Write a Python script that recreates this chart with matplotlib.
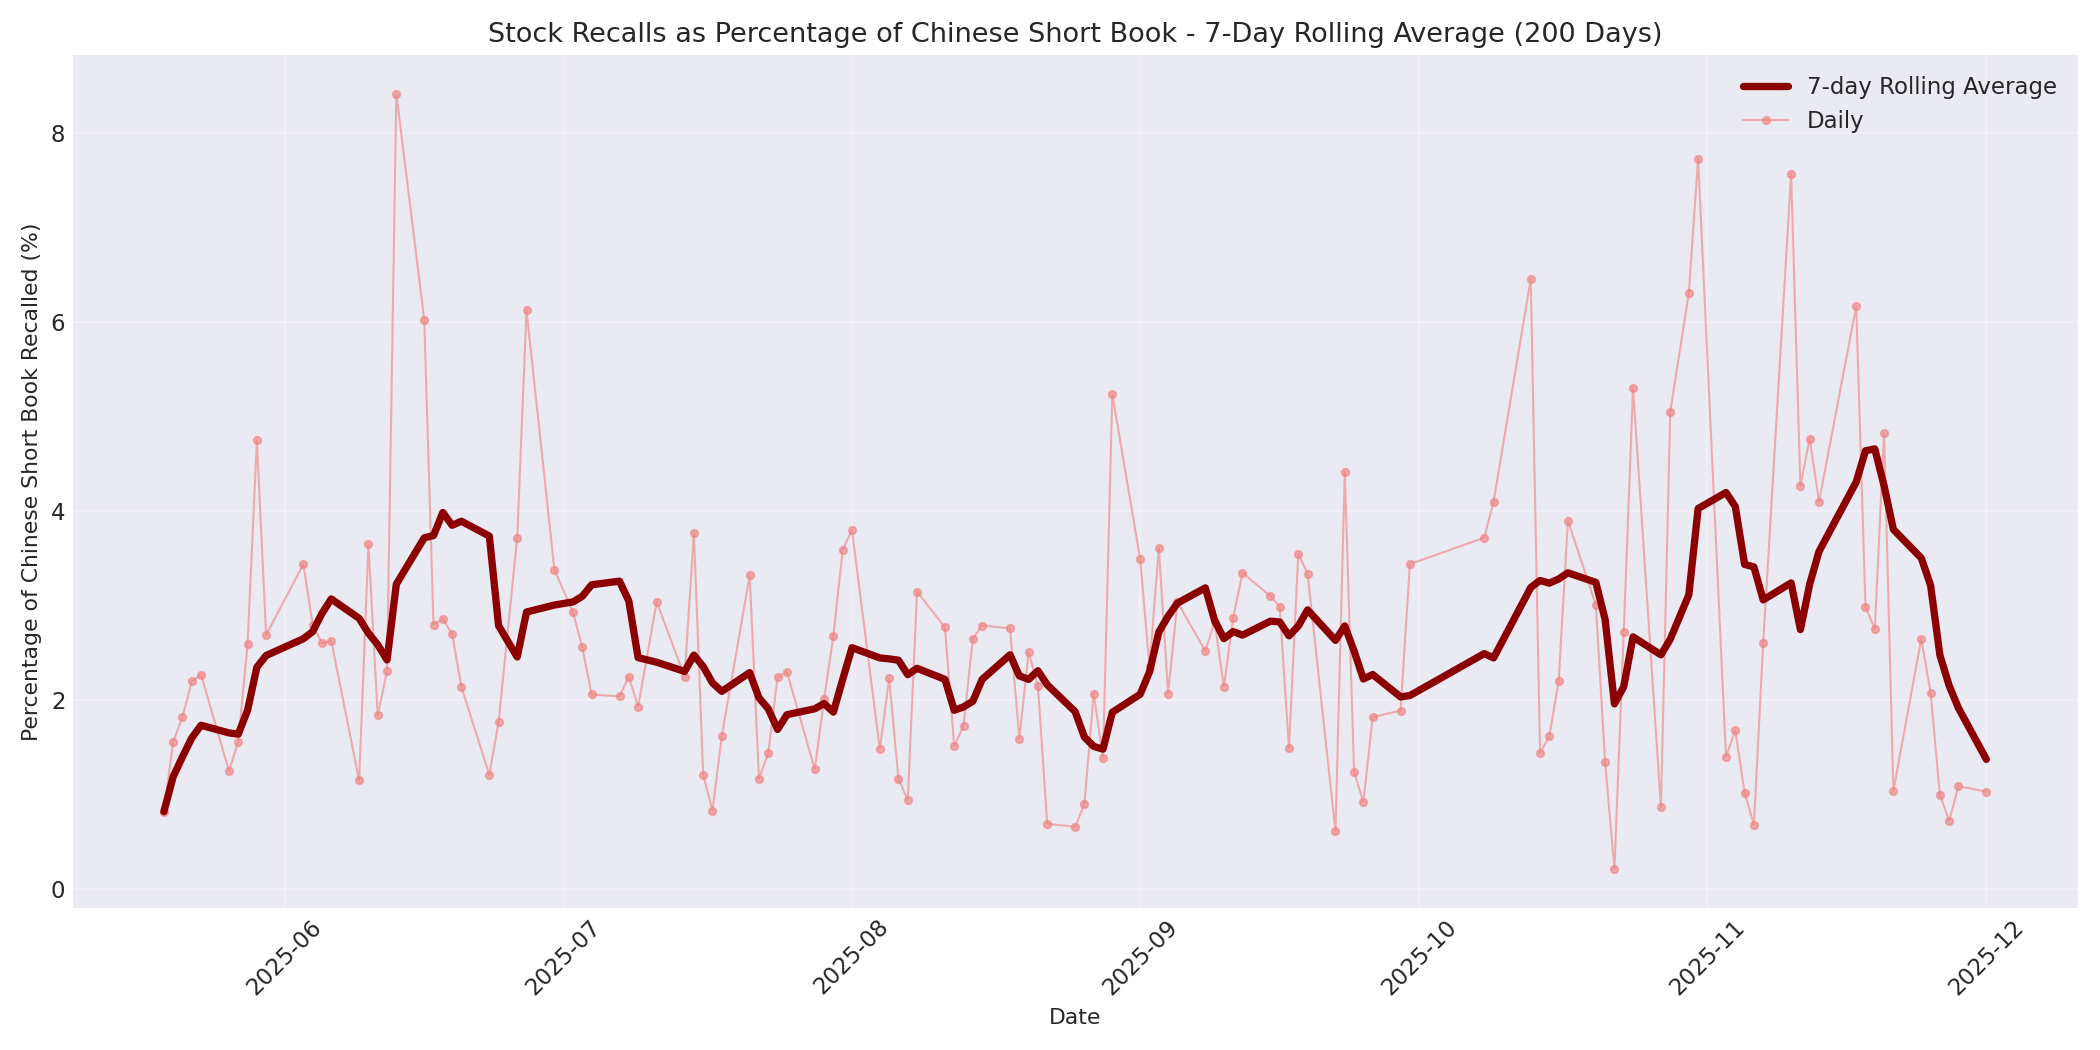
import numpy as np
import pandas as pd
import matplotlib
matplotlib.use("Agg")
import matplotlib.pyplot as plt
import matplotlib.dates as mdates

start_date = "2025-05-19"
day_offsets = [0, 1, 2, 3, 4, 7, 8, 9, 10, 11, 15, 16, 17, 18, 21, 22, 23, 24, 25, 28,
               29, 30, 31, 32, 35, 36, 38, 39, 42, 44, 45, 46, 49, 50, 51, 53, 56, 57, 58, 59,
               60, 63, 64, 65, 66, 67, 70, 71, 72, 73, 74, 77, 78, 79, 80, 81, 84, 85, 86, 87,
               88, 91, 92, 93, 94, 95, 98, 99, 100, 101, 102, 105, 106, 107, 108, 109, 112, 113, 114, 115,
               116, 119, 120, 121, 122, 123, 126, 127, 128, 129, 130, 133, 134, 142, 143, 147, 148, 149, 150, 151,
               154, 155, 156, 157, 158, 161, 162, 164, 165, 168, 169, 170, 171, 172, 175, 176, 177, 178, 182, 183,
               184, 185, 186, 189, 190, 191, 192, 193, 196]
daily_pct = [0.82, 1.56, 1.82, 2.20, 2.27, 1.25, 1.56, 2.59, 4.75, 2.69, 3.44, 2.80, 2.60, 2.63, 1.15, 3.65, 1.84, 2.31, 8.42, 6.03,
             2.80, 2.86, 2.70, 2.14, 1.21, 1.77, 3.72, 6.13, 3.38, 2.93, 2.56, 2.06, 2.04, 2.25, 1.93, 3.04, 2.25, 3.77, 1.21, 0.83,
             1.62, 3.32, 1.17, 1.44, 2.24, 2.30, 1.27, 2.01, 2.68, 3.59, 3.80, 1.48, 2.23, 1.17, 0.94, 3.15, 2.77, 1.51, 1.73, 2.65,
             2.79, 2.76, 1.59, 2.51, 2.15, 0.69, 0.66, 0.90, 2.07, 1.39, 5.24, 3.49, 2.35, 3.61, 2.07, 3.04, 2.52, 2.83, 2.14, 2.87,
             3.35, 3.10, 2.99, 1.49, 3.55, 3.34, 0.61, 4.42, 1.24, 0.92, 1.82, 1.89, 3.44, 3.72, 4.10, 6.46, 1.44, 1.62, 2.20, 3.90,
             3.01, 1.34, 0.21, 2.72, 5.31, 0.87, 5.05, 6.31, 7.73, 1.40, 1.68, 1.02, 0.68, 2.61, 7.57, 4.27, 4.77, 4.10, 6.17, 2.99,
             2.75, 4.83, 1.04, 2.65, 2.08, 1.00, 0.72, 1.09, 1.03]

dates = pd.Timestamp(start_date) + pd.to_timedelta(day_offsets, unit="D")
series = pd.Series(daily_pct, index=dates)
# rolling over 7 observations (trading days)
rolling = series.rolling(7, min_periods=1).mean()

plt.style.use("seaborn-v0_8-darkgrid")
plt.rcParams["font.family"] = ["DejaVu Sans"]
fig, ax = plt.subplots(figsize=(14, 7), dpi=150)

ax.plot(rolling.index, rolling.values, color="darkred", linewidth=3.5,
        label="7-day Rolling Average", zorder=3)
ax.plot(series.index, series.values, color="lightcoral", alpha=0.6, linewidth=1,
        marker="o", markersize=3.5, label="Daily", zorder=2)

ax.set_title("Stock Recalls as Percentage of Chinese Short Book - 7-Day Rolling Average (200 Days)",
             fontsize=13)
ax.set_xlabel("Date", fontsize=10.5)
ax.set_ylabel("Percentage of Chinese Short Book Recalled (%)", fontsize=10.5)
ax.xaxis.set_major_locator(mdates.MonthLocator())
ax.xaxis.set_major_formatter(mdates.DateFormatter("%Y-%m"))
ax.tick_params(axis="x", labelrotation=45, labelsize=11)
ax.tick_params(axis="y", labelsize=11)
ax.legend(fontsize=11, loc="upper right")
ax.grid(True, alpha=0.3)

plt.tight_layout()
plt.savefig("out.png")
